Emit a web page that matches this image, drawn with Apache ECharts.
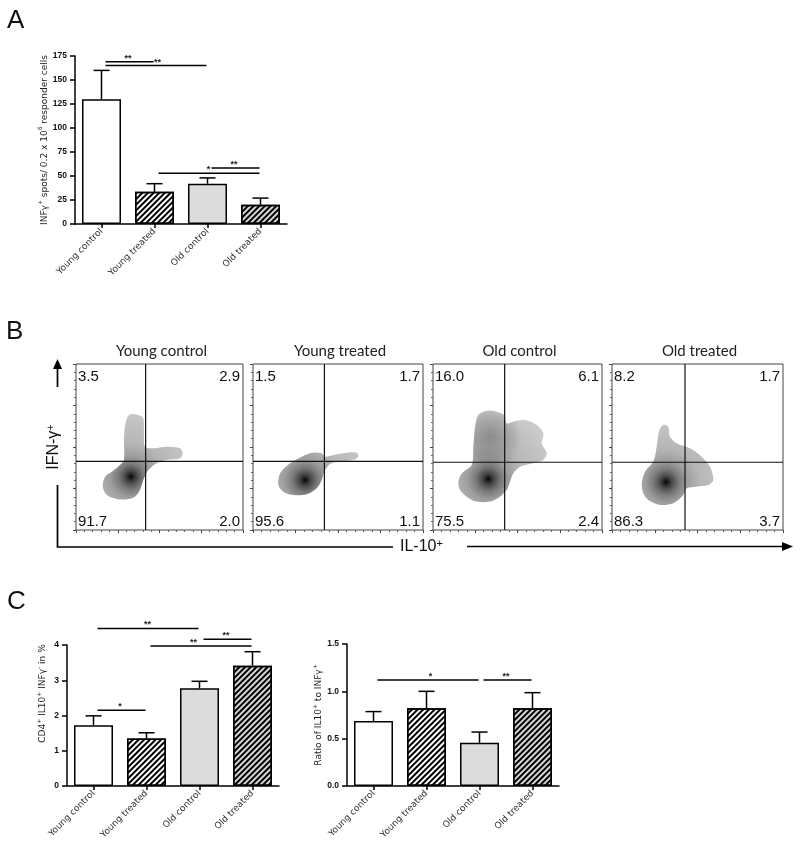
<!DOCTYPE html>
<html><head><meta charset="utf-8">
<script src="https://cdn.jsdelivr.net/npm/echarts@6/dist/echarts.min.js"></script>
<style>html,body{margin:0;padding:0;background:#fff}#c{width:800px;height:849px}</style>
</head><body><div id="c"></div>
<script>
// ================= DATA =================
const groups = ['Young control', 'Young treated', 'Old control', 'Old treated'];

// Panel A: INFγ+ spots
const aMean = [130, 33.5, 42, 20];
const aErr  = [30, 8.5, 6, 7];
const aBrackets = [[0, 1, 169, '**'], [0, 2, 165, '**'], [1, 3, 52.8, '*'], [2, 3, 58.3, '**']];

// Panel C left: CD4+ IL10+ INFγ- (%)
const cMean = [1.72, 1.35, 2.77, 3.41];
const cErr  = [0.27, 0.16, 0.20, 0.40];
const cBrackets = [[0, 2, 4.47, '**'], [1, 3, 3.97, '**'], [2, 3, 4.16, '**'], [0, 1, 2.15, '*']];

// Panel C right: ratio IL10+ / INFγ+
const rMean = [0.686, 0.82, 0.456, 0.82];
const rErr  = [0.10, 0.18, 0.114, 0.166];
const rBrackets = [[0, 2, 1.12, '*'], [2, 3, 1.12, '**']];

// Panel B: quadrant percentages (UL, UR, LL, LR)
const qUL = ['3.5', '1.5', '16.0', '8.2'];
const qUR = ['2.9', '1.7', '6.1', '1.7'];
const qLL = ['91.7', '95.6', '75.5', '86.3'];
const qLR = ['2.0', '1.1', '2.4', '3.7'];
// quadrant gates (axis units 0-100)
const gateX = [41.7, 42.0, 42.4, 42.7];
const gateY = [41.4, 41.4, 40.8, 40.8];
// density outlines (axis units 0-100)
const blobYC = [[28.7,42.2],[28.7,54.2],[29.3,62.2],[30.9,68.3],[33.3,69.9],[37.3,69.3],[40.3,67.3],[40.7,58.2],[41.3,50.2],[46.3,49.2],[54.3,50.2],[62.3,49.2],[63.9,46.2],[62.3,43.2],[54.3,42.2],[48.3,40.2],[43.3,36.1],[40.3,30.1],[38.3,24.1],[35.3,20.1],[30.4,18.5],[24.4,18.7],[18.4,21.1],[16.0,26.1],[17.4,32.1],[21.4,35.1],[26.3,39.2]];
const blobYT = [[15.9,34.1],[21.8,40.2],[28.6,44.2],[34.5,46.6],[40.4,46.2],[42.4,44.2],[47.3,45.2],[55.1,46.6],[61.0,46.6],[61.9,44.2],[59.0,42.2],[51.2,41.2],[45.3,39.8],[42.4,36.1],[40.4,30.1],[37.5,25.1],[31.6,21.5],[23.7,21.1],[17.8,23.1],[14.9,27.1]];
const blobOC = [[15.0,29.1],[17.0,34.1],[22.9,39.2],[23.9,50.2],[24.9,62.2],[26.8,69.3],[31.8,71.9],[37.7,71.3],[42.0,69.3],[43.6,64.3],[47.5,65.2],[54.4,66.3],[61.4,63.3],[65.3,58.2],[64.3,52.2],[67.3,46.2],[65.3,42.2],[59.4,40.2],[51.5,38.1],[47.5,34.1],[45.6,29.1],[43.6,24.1],[39.6,20.1],[33.7,17.1],[25.8,17.1],[19.9,20.1],[16.0,24.1]];
const blobOT = [[17.4,28.1],[19.3,35.1],[24.2,41.2],[26.1,50.2],[27.7,60.2],[30.0,63.3],[32.9,62.2],[33.9,56.2],[37.8,52.2],[45.6,49.2],[52.4,44.2],[57.3,38.1],[59.2,30.1],[56.3,27.1],[49.5,26.1],[43.7,25.1],[41.7,21.1],[35.8,16.1],[28.1,15.1],[21.2,18.1],[18.3,22.1]];
const blobs = [blobYC, blobYT, blobOC, blobOT];
const peaks = [[32.9, 32.1], [30.6, 30.1], [32.7, 30.7], [31.6, 28.9]];
const lobes = [[], [], [[33.7, 56.2]], []];

// ================= STYLE / LAYOUT =================
const FONT = 'Arial, "Liberation Sans", sans-serif';
const SMALL = '"DejaVu Sans", Verdana, sans-serif';
const FILLS = ['#ffffff', '#ffffff', '#dcdcdc', '#d6d6d6'];
const HATCH = [false, true, false, true];
const DECAL = {symbol: 'rect', symbolSize: 1, color: '#000', dashArrayX: [1, 0], dashArrayY: [2, 2], rotation: -Math.PI / 4};
// horizontal nudges (px) of significance labels, per bracket (layout only)
const aLabelShift = [0, 3, 1, 0];
const cLabelShift = [1, -6, 0, 0];
const rLabelShift = [4, 0];
const flowGrid = [{left: 76, width: 167}, {left: 253, width: 170}, {left: 433, width: 169}, {left: 612, width: 171}];
const flowTop = 364, flowH = 166;

const grids = [
  {left: 75, top: 56, width: 212, height: 168},
  {left: 67, top: 645, width: 212, height: 141},
  {left: 347, top: 644, width: 212, height: 142}
].concat(flowGrid.map(g => ({left: g.left, top: flowTop, width: g.width, height: flowH, show: true, borderColor: '#444', borderWidth: 1, backgroundColor: 'transparent'})));

const richName = {
  t: {fontSize: 9, color: '#222', fontFamily: SMALL, lineHeight: 13},
  s: {fontSize: 6, color: '#222', fontFamily: SMALL, verticalAlign: 'top', lineHeight: 6}
};

function catAxis(gi) {
  return {gridIndex: gi, type: 'category', data: groups,
    axisLine: {lineStyle: {color: '#000', width: 1.5}},
    axisTick: {show: true, alignWithLabel: true, length: 4, lineStyle: {color: '#000', width: 1.5}},
    axisLabel: {rotate: 45, interval: 0, fontSize: 9, color: '#333', fontFamily: SMALL, margin: 6}};
}
function valAxis(gi, max, interval, name, gap, fmt, pad) {
  return {gridIndex: gi, type: 'value', min: 0, max: max, interval: interval,
    axisLine: {show: true, lineStyle: {color: '#000', width: 1.5}},
    axisTick: {show: true, length: 5, lineStyle: {color: '#000', width: 1.5}},
    axisLabel: {fontSize: 8.5, fontWeight: 'bold', color: '#111', fontFamily: FONT, margin: 8, formatter: fmt},
    splitLine: {show: false},
    name: name, nameLocation: 'middle', nameGap: gap, nameRotate: 90,
    nameTextStyle: {rich: richName, padding: pad || 0}};
}
function flowAxis(gi) {
  return {gridIndex: gi, type: 'value', min: 0, max: 100, interval: 25,
    axisLine: {show: false}, axisLabel: {show: false}, splitLine: {show: false},
    axisTick: {show: true, length: 3, lineStyle: {color: '#444', width: 1}},
    minorTick: {show: true, splitNumber: 5, length: 2, lineStyle: {color: '#666', width: 1}}};
}

function barSeries(ax, vals) {
  return {type: 'bar', xAxisIndex: ax, yAxisIndex: ax, barWidth: 39, silent: true, z: 3,
    data: vals.map((v, i) => {
      const st = {color: FILLS[i], borderColor: '#000', borderWidth: 1.5};
      if (HATCH[i]) st.decal = DECAL;
      return {value: v, itemStyle: st};
    })};
}
function errSeries(ax, mean, err) {
  return {type: 'custom', xAxisIndex: ax, yAxisIndex: ax, z: 4, silent: true,
    data: mean.map((m, i) => [i, m, err[i]]), encode: {x: 0, y: 1},
    renderItem: function (params, api) {
      const i = api.value(0), m = api.value(1), e = api.value(2);
      const p0 = api.coord([i, m]), p1 = api.coord([i, m + e]);
      const hw = 8;
      return {type: 'group', children: [
        {type: 'line', shape: {x1: p0[0], y1: p0[1], x2: p1[0], y2: p1[1]}, style: {stroke: '#000', lineWidth: 1.5}},
        {type: 'line', shape: {x1: p1[0] - hw, y1: p1[1], x2: p1[0] + hw, y2: p1[1]}, style: {stroke: '#000', lineWidth: 1.5}}
      ]};
    }};
}
function bracketSeries(ax, br, shift) {
  return {type: 'custom', xAxisIndex: ax, yAxisIndex: ax, z: 5, silent: true,
    data: br.map(b => [b[0], b[2]]), encode: {x: 0, y: 1},
    renderItem: function (params, api) {
      const b = br[params.dataIndex];
      const a = api.coord([b[0], b[2]]), c = api.coord([b[1], b[2]]);
      return {type: 'group', children: [
        {type: 'line', shape: {x1: a[0] + 4, y1: a[1], x2: c[0] - 1, y2: c[1]}, style: {stroke: '#000', lineWidth: 1.5}},
        {type: 'text', style: {x: (a[0] + c[0]) / 2 + shift[params.dataIndex], y: a[1] + 1, text: b[3], align: 'center', verticalAlign: 'bottom', font: 'bold 9px ' + FONT, fill: '#222'}}
      ]};
    }};
}
function flowSeries(p) {
  const gi = 3 + p;
  return {type: 'custom', xAxisIndex: gi, yAxisIndex: gi, silent: true, z: 3,
    data: [[0, 0]], encode: {x: 0, y: 1},
    renderItem: function (params, api) {
      const pts = blobs[p].map(q => api.coord(q));
      const pk = api.coord(peaks[p]);
      const children = [];
      children.push({type: 'polygon', shape: {points: pts, smooth: 0.3}, style: {fill: {
        type: 'radial', x: pk[0], y: pk[1], r: 70, global: true,
        colorStops: [{offset: 0, color: '#000'}, {offset: 0.03, color: '#202020'}, {offset: 0.09, color: '#4c4c4c'},
          {offset: 0.18, color: '#7a7a7a'}, {offset: 0.3, color: '#9e9e9e'}, {offset: 0.48, color: '#b6b6b6'}, {offset: 1, color: '#cbcbcb'}]}}});
      lobes[p].forEach(l => {
        const lc = api.coord(l);
        children.push({type: 'polygon', shape: {points: pts, smooth: 0.3}, style: {fill: {
          type: 'radial', x: lc[0], y: lc[1], r: 32, global: true,
          colorStops: [{offset: 0, color: 'rgba(70,70,70,0.4)'}, {offset: 0.6, color: 'rgba(70,70,70,0.2)'}, {offset: 1, color: 'rgba(70,70,70,0)'}]}}});
      });
      const g0 = api.coord([gateX[p], 0]), g1 = api.coord([gateX[p], 100]);
      const h0 = api.coord([0, gateY[p]]), h1 = api.coord([100, gateY[p]]);
      children.push({type: 'line', shape: {x1: g0[0], y1: g0[1], x2: g1[0], y2: g1[1]}, style: {stroke: '#111', lineWidth: 1.2}});
      children.push({type: 'line', shape: {x1: h0[0], y1: h0[1], x2: h1[0], y2: h1[1]}, style: {stroke: '#111', lineWidth: 1.2}});
      const tl = api.coord([0, 100]), br = api.coord([100, 0]);
      const f = '15px ' + FONT;
      children.push({type: 'text', style: {x: tl[0] + 2, y: tl[1] + 5, text: qUL[p], font: f, fill: '#111', align: 'left', verticalAlign: 'top'}});
      children.push({type: 'text', style: {x: br[0] - 3, y: tl[1] + 5, text: qUR[p], font: f, fill: '#111', align: 'right', verticalAlign: 'top'}});
      children.push({type: 'text', style: {x: tl[0] + 2, y: br[1] - 1, text: qLL[p], font: f, fill: '#111', align: 'left', verticalAlign: 'bottom'}});
      children.push({type: 'text', style: {x: br[0] - 3, y: br[1] - 1, text: qLR[p], font: f, fill: '#111', align: 'right', verticalAlign: 'bottom'}});
      return {type: 'group', children: children};
    }};
}

const xAxes = [catAxis(0), catAxis(1), catAxis(2)].concat([0, 1, 2, 3].map(p => flowAxis(3 + p)));
const yAxes = [
  valAxis(0, 175, 25, '{t|INFγ}{s|+}{t| spots/ 0.2 x 10}{s|6}{t| responder cells}', 24),
  valAxis(1, 4, 1, '{t|CD4}{s|+}{t| IL10}{s|+}{t| INFγ}{s|-}{t| in %}', 18, null, [0, 0, 0, 44]),
  valAxis(2, 1.5, 0.5, '{t|Ratio of IL10}{s|+}{t| to INFγ}{s|+}', 18, v => v.toFixed(1))
].concat([0, 1, 2, 3].map(p => flowAxis(3 + p)));

const series = [
  barSeries(0, aMean), errSeries(0, aMean, aErr), bracketSeries(0, aBrackets, aLabelShift),
  barSeries(1, cMean), errSeries(1, cMean, cErr), bracketSeries(1, cBrackets, cLabelShift),
  barSeries(2, rMean), errSeries(2, rMean, rErr), bracketSeries(2, rBrackets, rLabelShift)
].concat([0, 1, 2, 3].map(flowSeries));

const LW = 1.7;
const graphic = [
  {type: 'text', style: {x: 7, y: 21, text: 'A', font: '26px ' + FONT, fill: '#111', verticalAlign: 'middle'}},
  {type: 'text', style: {x: 6, y: 332, text: 'B', font: '26px ' + FONT, fill: '#111', verticalAlign: 'middle'}},
  {type: 'text', style: {x: 7, y: 602, text: 'C', font: '26px ' + FONT, fill: '#111', verticalAlign: 'middle'}},
  // flow axis decorations
  {type: 'line', shape: {x1: 57.5, y1: 387, x2: 57.5, y2: 367}, style: {stroke: '#000', lineWidth: LW}},
  {type: 'polygon', shape: {points: [[57.5, 359], [53, 369], [62, 369]]}, style: {fill: '#000'}},
  {type: 'text', rotation: Math.PI / 2, x: 54, y: 447, style: {text: '{a|IFN-γ}{b|+}', align: 'center', verticalAlign: 'middle',
    rich: {a: {font: '16px ' + FONT, fill: '#111', lineHeight: 18}, b: {font: '11px ' + FONT, fill: '#111', verticalAlign: 'top', lineHeight: 10}}}},
  {type: 'polyline', shape: {points: [[57.5, 485], [57.5, 547], [393, 547]]}, style: {stroke: '#000', lineWidth: LW, fill: null}},
  {type: 'text', style: {x: 400, y: 547, text: '{a|IL-10}{b|+}', align: 'left', verticalAlign: 'middle',
    rich: {a: {font: '16px ' + FONT, fill: '#111', lineHeight: 18}, b: {font: '11px ' + FONT, fill: '#111', verticalAlign: 'top', lineHeight: 10}}}},
  {type: 'line', shape: {x1: 467, y1: 546.5, x2: 783, y2: 546.5}, style: {stroke: '#000', lineWidth: LW}},
  {type: 'polygon', shape: {points: [[793, 546.5], [782, 542], [782, 551]]}, style: {fill: '#000'}}
].concat(groups.map((g, i) => ({type: 'text', style: {x: flowGrid[i].left + flowGrid[i].width / 2 + 2, y: 351, text: g,
  font: '15px Lato, "Liberation Sans", sans-serif', fill: '#222', align: 'center', verticalAlign: 'middle'}})));

const chart = echarts.init(document.getElementById('c'), null, {renderer: 'canvas', width: 800, height: 849});
chart.setOption({animation: false, backgroundColor: '#fff', grid: grids, xAxis: xAxes, yAxis: yAxes, series: series, graphic: graphic});
</script></body></html>
